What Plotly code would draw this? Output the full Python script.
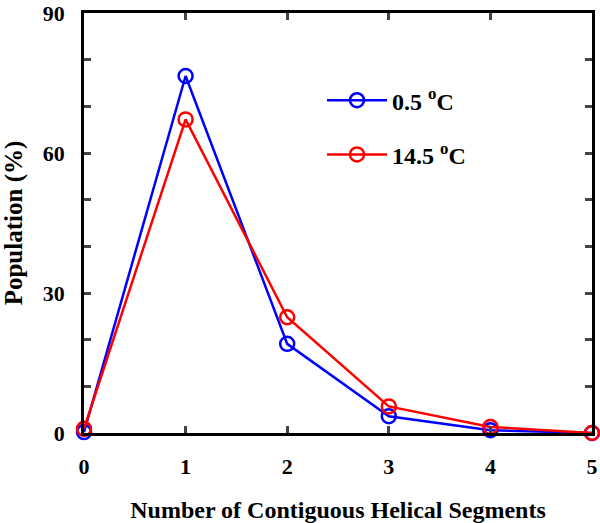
import plotly.graph_objects as go

segments = [0, 1, 2, 3, 4, 5]
pop_05C = [0.2, 76.5, 19.1, 3.6, 0.6, 0.0]
pop_145C = [0.9, 67.2, 24.8, 5.7, 1.3, 0.0]
x_ticks = [0, 1, 2, 3, 4, 5]
y_ticks = [0, 30, 60, 90]

FONT = "Liberation Serif, Times New Roman, serif"

fig = go.Figure()
for name, vals, col in [("0.5 <sup>o</sup>C", pop_05C, "#0000ff"),
                        ("14.5 <sup>o</sup>C", pop_145C, "#ff0000")]:
    fig.add_trace(go.Scatter(
        x=segments, y=vals, name=name, mode="lines+markers",
        legendgroup=name,
        line=dict(color=col, width=2.5),
        marker=dict(symbol="circle-open", size=14, color=col, line=dict(width=2.5, color=col)),
        cliponaxis=False,
    ))

fig.update_layout(
    width=600, height=523,
    margin=dict(l=84, r=8, t=13, b=90),
    plot_bgcolor="white", paper_bgcolor="white",
    font=dict(family=FONT, size=22, color="black"),
    showlegend=True,
    legend=dict(x=0.4685, y=0.845, xanchor="left", yanchor="top",
                font=dict(family=FONT, size=24, color="black", weight="bold"),
                tracegroupgap=20, itemwidth=60, bgcolor="rgba(0,0,0,0)"),
    xaxis=dict(range=[0, 5], tickvals=x_ticks, ticks="inside", ticklen=7, tickwidth=2.5,
               showline=True, linewidth=2.5, linecolor="black", mirror="ticks",
               showgrid=False, zeroline=False, automargin=False,
               ticklabelstandoff=12, ticklabeloverflow="allow",
               tickfont=dict(family=FONT, size=22, weight="bold"),
               title=dict(text="Number of Contiguous Helical Segments", standoff=24,
                          font=dict(family=FONT, size=24, weight="bold"))),
    yaxis=dict(range=[0, 90], tickvals=y_ticks, ticks="inside", ticklen=7, tickwidth=2.5,
               showline=True, linewidth=2.5, linecolor="black", mirror="ticks",
               showgrid=False, zeroline=False, automargin=False,
               ticklabelstandoff=12, ticklabeloverflow="allow",
               minor=dict(dtick=10, ticks="inside", ticklen=7, tickwidth=2.5, showgrid=False),
               tickfont=dict(family=FONT, size=22, weight="bold"),
               title=dict(text="Population (%)", standoff=20,
                          font=dict(family=FONT, size=25, weight="bold"))),
)

fig.write_html("out.html", config={"displayModeBar": False},
               post_script="document.body.style.margin='0';")
